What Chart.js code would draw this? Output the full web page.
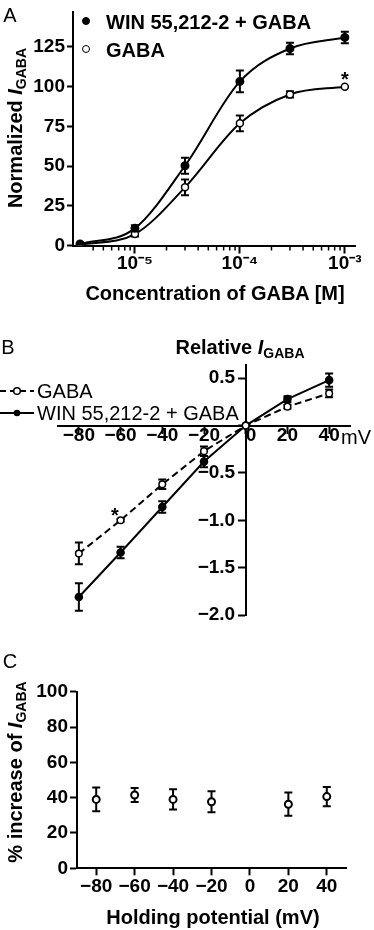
<!DOCTYPE html>
<html>
<head>
<meta charset="utf-8">
<script src="https://cdn.jsdelivr.net/npm/chart.js@4.4.1/dist/chart.umd.min.js"></script>
<style>
  html, body { margin: 0; padding: 0; background: #fff; }
  body { position: relative; width: 374px; height: 930px; overflow: hidden;
         font-family: "Liberation Sans", Arial, sans-serif; color: #000; }
  canvas { position: absolute; left: 0; }
  .t { position: absolute; white-space: nowrap; line-height: 1; transform: translate(-50%, -50%); }
  .tl { position: absolute; white-space: nowrap; line-height: 1; transform: translate(0, -50%); }
  .b { font-weight: bold; font-size: 20px; }
  .r { font-weight: normal; font-size: 20px; }
  .rot { transform: translate(-50%, -50%) rotate(-90deg); }
  sub { font-size: 14px; vertical-align: -0.3em; line-height: 0; }
  .mk { position: absolute; width: 8px; height: 8px; border-radius: 50%; box-sizing: border-box;
        transform: translate(-50%, -50%); border: 1.5px solid #000; }
</style>
</head>
<body>
<canvas id="chartA" width="374" height="300" style="top:0px;width:374px;height:300px"></canvas>
<canvas id="chartB" width="374" height="330" style="top:300px;width:374px;height:330px"></canvas>
<canvas id="chartC" width="374" height="300" style="top:630px;width:374px;height:300px"></canvas>

<!-- panel A text -->
<div class="t r" style="left:10px;top:15px">A</div>
<span class="mk" style="left:86px;top:21px;background:#000"></span>
<div class="tl b" style="left:106px;top:22px">WIN 55,212-2 + GABA</div>
<span class="mk" style="left:86px;top:49px;background:#fff"></span>
<div class="tl b" style="left:106px;top:50px">GABA</div>
<div class="t b" style="left:345px;top:79px">*</div>
<div class="t b rot" style="left:15px;top:128px">Normalized <i>I</i><sub>GABA</sub></div>
<div class="t b" style="left:215px;top:293px">Concentration of GABA [M]</div>

<!-- panel B text -->
<div class="t r" style="left:8px;top:347px">B</div>
<div class="t b" style="left:240px;top:347px">Relative <i>I</i><sub>GABA</sub></div>
<svg style="position:absolute;left:0;top:380px" width="36" height="44">
  <line x1="0" y1="11" x2="34" y2="11" stroke="#000" stroke-width="2" stroke-dasharray="6,4"/>
  <circle cx="17" cy="11" r="3.3" fill="#fff" stroke="#000" stroke-width="1.5"/>
  <line x1="0" y1="33" x2="34" y2="33" stroke="#000" stroke-width="2"/>
  <circle cx="17" cy="33" r="3.3" fill="#000"/>
</svg>
<div class="tl r" style="left:37px;top:391px">GABA</div>
<div class="tl r" style="left:37px;top:413px">WIN 55,212-2 + GABA</div>
<div class="t r" style="left:356px;top:437px">mV</div>
<div class="t b" style="left:115px;top:515px">*</div>

<!-- panel C text -->
<div class="t r" style="left:10px;top:661px">C</div>
<div class="t b rot" style="left:15px;top:772px">% increase of <i>I</i><sub>GABA</sub></div>
<div class="t b" style="left:213px;top:917px">Holding potential (mV)</div>

<script>
// ===== PANEL A: concentration-response =====
const concA = [3e-6, 1e-5, 3e-5, 1e-4, 3e-4, 1e-3];
const winA = [1, 10.8, 50.2, 103.3, 124, 131];
const winErrA = [0.8, 2, 5, 6.8, 3.6, 3.6];
const gabaA = [0.5, 7.2, 36.6, 76.9, 95.1, 100];
const gabaErrA = [0.5, 1.5, 5, 5, 2, 0];
const yTicksA = [0, 25, 50, 75, 100, 125];
const decadesA = [-6, -5, -4, -3];

// ===== PANEL B: I-V relation =====
const mvB = [-80, -60, -40, -20, 0, 20, 40];
const gabaB = [-1.35, -1.0, -0.62, -0.27, 0, 0.2, 0.34];
const gabaErrB = [0.115, 0.015, 0.05, 0.05, 0, 0.02, 0.04];
const winB = [-1.81, -1.34, -0.86, -0.38, 0, 0.28, 0.48];
const winErrB = [0.145, 0.06, 0.06, 0.06, 0, 0.03, 0.07];
const xTicksB = [-80, -60, -40, -20, 0, 20, 40];
const yTicksB = [-2.0, -1.5, -1.0, -0.5, 0, 0.5];

// ===== PANEL C: % increase =====
const mvC = [-80, -60, -40, -20, 20, 40];
const incC = [39, 41.5, 39, 37.7, 36.3, 40.6];
const incErrC = [6.7, 4, 5.7, 6, 6.6, 5.4];
const xTicksC = [-80, -60, -40, -20, 0, 20, 40];
const yTicksC = [0, 20, 40, 60, 80, 100];

const FONT = '"Liberation Sans", Arial, sans-serif';
Chart.defaults.font.family = FONT;
Chart.defaults.color = '#000';

const tickFont = { family: FONT, size: 19, weight: 'bold' };
const pts = (xs, ys) => xs.map((x, i) => ({ x, y: ys[i] }));
const minus = v => (v < 0 ? '\u2212' : '');
const supDigits = { '0': '\u2070', '1': '\u00b9', '2': '\u00b2', '3': '\u00b3', '4': '\u2074',
  '5': '\u2075', '6': '\u2076', '7': '\u2077', '8': '\u2078', '9': '\u2079', '-': '\u207b' };
const sup = n => String(n).split('').map(c => supDigits[c]).join('');

// kill the label overflow padding so chart area is exactly what we set
function noPad(s) { s.paddingTop = 0; s.paddingBottom = 0; s.paddingLeft = 0; s.paddingRight = 0; }

// error bars, drawn under the points
const errorBars = {
  id: 'errorBars',
  beforeDatasetsDraw(chart) {
    const { ctx, scales: { x, y } } = chart;
    ctx.save();
    ctx.strokeStyle = '#000';
    ctx.lineWidth = 2;
    chart.data.datasets.forEach(ds => {
      if (!ds.errors) return;
      ds.data.forEach((p, i) => {
        const e = ds.errors[i];
        if (!e) return;
        const px = x.getPixelForValue(p.x);
        const y1 = y.getPixelForValue(p.y + e);
        const y2 = y.getPixelForValue(p.y - e);
        ctx.beginPath();
        ctx.moveTo(px, y1); ctx.lineTo(px, y2);
        ctx.moveTo(px - 4, y1); ctx.lineTo(px + 4, y1);
        ctx.moveTo(px - 4, y2); ctx.lineTo(px + 4, y2);
        ctx.stroke();
      });
    });
    ctx.restore();
  }
};

// short minor ticks on the log axis
const minorTicks = {
  id: 'minorTicks',
  afterDraw(chart) {
    const s = chart.scales.x;
    if (s.type !== 'logarithmic') return;
    const ctx = chart.ctx;
    ctx.save();
    ctx.strokeStyle = '#000';
    ctx.lineWidth = 1.5;
    s.ticks.forEach(t => {
      if (t.major) return;
      const px = s.getPixelForValue(t.value);
      ctx.beginPath();
      ctx.moveTo(px, chart.chartArea.bottom);
      ctx.lineTo(px, chart.chartArea.bottom + 5);
      ctx.stroke();
    });
    ctx.restore();
  }
};

const baseOpts = {
  responsive: false,
  animation: false,
  events: [],
  plugins: { legend: { display: false }, tooltip: { enabled: false } }
};

// ========== PANEL A ==========
new Chart(document.getElementById('chartA'), {
  type: 'line',
  data: {
    datasets: [
      {
        data: pts(concA, winA), errors: winErrA,
        borderColor: '#000', borderWidth: 2, cubicInterpolationMode: 'monotone',
        pointRadius: 3.5, pointBackgroundColor: '#000', pointBorderColor: '#000'
      },
      {
        data: pts(concA, gabaA), errors: gabaErrA,
        borderColor: '#000', borderWidth: 2, cubicInterpolationMode: 'monotone',
        pointRadius: 3.5, pointBackgroundColor: '#fff', pointBorderColor: '#000', pointBorderWidth: 1.5
      }
    ]
  },
  options: {
    ...baseOpts,
    layout: { padding: { top: 12, right: 19, left: 0, bottom: 0 } },
    scales: {
      x: {
        type: 'logarithmic', min: 2.57e-6, max: 1.25e-3,
        afterBuildTicks: s => {
          const ticks = [];
          decadesA.forEach(d => {
            for (let m = 1; m <= 9; m++) {
              const v = m * Math.pow(10, d);
              if (v > 3.5e-6 && v <= s.max) ticks.push({ value: v, major: m === 1 });
            }
          });
          s.ticks = ticks;
        },
        afterFit: s => { noPad(s); s.height = 54.5; },
        border: { color: '#000', width: 2 },
        grid: {
          drawOnChartArea: false, tickLength: 8, tickWidth: 2,
          tickColor: c => (c.tick && c.tick.major ? '#000' : 'rgba(0,0,0,0)')
        },
        ticks: {
          font: tickFont, autoSkip: false, maxRotation: 0, padding: -1,
          callback: function (v, i, ticks) {
            return ticks[i].major ? '10' + sup(Math.round(Math.log10(v))) : '';
          }
        }
      },
      y: {
        min: 0, max: 147,
        afterBuildTicks: s => { s.ticks = yTicksA.map(v => ({ value: v })); },
        afterFit: s => { noPad(s); s.width = 73; },
        border: { color: '#000', width: 2 },
        grid: { drawOnChartArea: false, tickLength: 6, tickWidth: 2, tickColor: '#000' },
        ticks: { font: tickFont, padding: 2 }
      }
    }
  },
  plugins: [errorBars, minorTicks]
});

// ========== PANEL B ==========
new Chart(document.getElementById('chartB'), {
  type: 'line',
  data: {
    datasets: [
      {
        data: pts(mvB, gabaB), errors: gabaErrB,
        borderColor: '#000', borderWidth: 2, borderDash: [7, 4], tension: 0,
        pointRadius: 3.3, pointBackgroundColor: '#fff', pointBorderColor: '#000', pointBorderWidth: 1.5
      },
      {
        data: pts(mvB, winB), errors: winErrB,
        borderColor: '#000', borderWidth: 2, tension: 0,
        pointRadius: 3.3, pointBackgroundColor: '#000', pointBorderColor: '#000'
      }
    ]
  },
  options: {
    ...baseOpts,
    layout: { padding: { top: 65, right: 24, left: 58, bottom: 15 } },
    scales: {
      x: {
        type: 'linear', axis: 'x', min: -90, max: 50, position: { y: 0 },
        afterBuildTicks: s => { s.ticks = xTicksB.map(v => ({ value: v })); },
        afterFit: noPad,
        border: { color: '#000', width: 2 },
        grid: { drawOnChartArea: false, tickLength: 7, tickWidth: 2, tickColor: '#000' },
        ticks: {
          font: tickFont, padding: -8, maxRotation: 0, autoSkip: false,
          callback: v => (v === 0 ? '  0' : minus(v) + Math.abs(v))
        }
      },
      y: {
        type: 'linear', axis: 'y', min: -2.0, max: 0.64, position: { x: 0 },
        afterBuildTicks: s => { s.ticks = yTicksB.map(v => ({ value: v })); },
        afterFit: noPad,
        border: { color: '#000', width: 2 },
        grid: { drawOnChartArea: false, tickLength: 7, tickWidth: 2, tickColor: '#000' },
        ticks: {
          font: tickFont, padding: 3, autoSkip: false,
          // centred axis ignores tick padding, so trailing spaces push the label off the ticks
          callback: v => (v === 0 ? '' : minus(v) + Math.abs(v).toFixed(1) + '  ')
        }
      }
    }
  },
  plugins: [errorBars]
});

// ========== PANEL C ==========
new Chart(document.getElementById('chartC'), {
  type: 'scatter',
  data: {
    datasets: [
      {
        data: pts(mvC, incC), errors: incErrC, showLine: false,
        pointRadius: 3.5, pointBackgroundColor: '#fff', pointBorderColor: '#000', pointBorderWidth: 2
      }
    ]
  },
  options: {
    ...baseOpts,
    layout: { padding: { top: 61.7, right: 28, left: 0, bottom: 0 } },
    scales: {
      x: {
        type: 'linear', min: -90, max: 50,
        afterBuildTicks: s => { s.ticks = xTicksC.map(v => ({ value: v })); },
        afterFit: s => { noPad(s); s.height = 61.7; },
        border: { color: '#000', width: 2 },
        grid: { drawOnChartArea: false, tickLength: 7, tickWidth: 2, tickColor: '#000' },
        ticks: {
          font: tickFont, padding: 0, maxRotation: 0, autoSkip: false,
          callback: v => minus(v) + Math.abs(v)
        }
      },
      y: {
        min: 0, max: 100,
        afterBuildTicks: s => { s.ticks = yTicksC.map(v => ({ value: v })); },
        afterFit: s => { noPad(s); s.width = 77; },
        border: { color: '#000', width: 2 },
        grid: { drawOnChartArea: false, tickLength: 7, tickWidth: 2, tickColor: '#000' },
        ticks: { font: tickFont, padding: 2 }
      }
    }
  },
  plugins: [errorBars]
});
</script>
</body>
</html>
